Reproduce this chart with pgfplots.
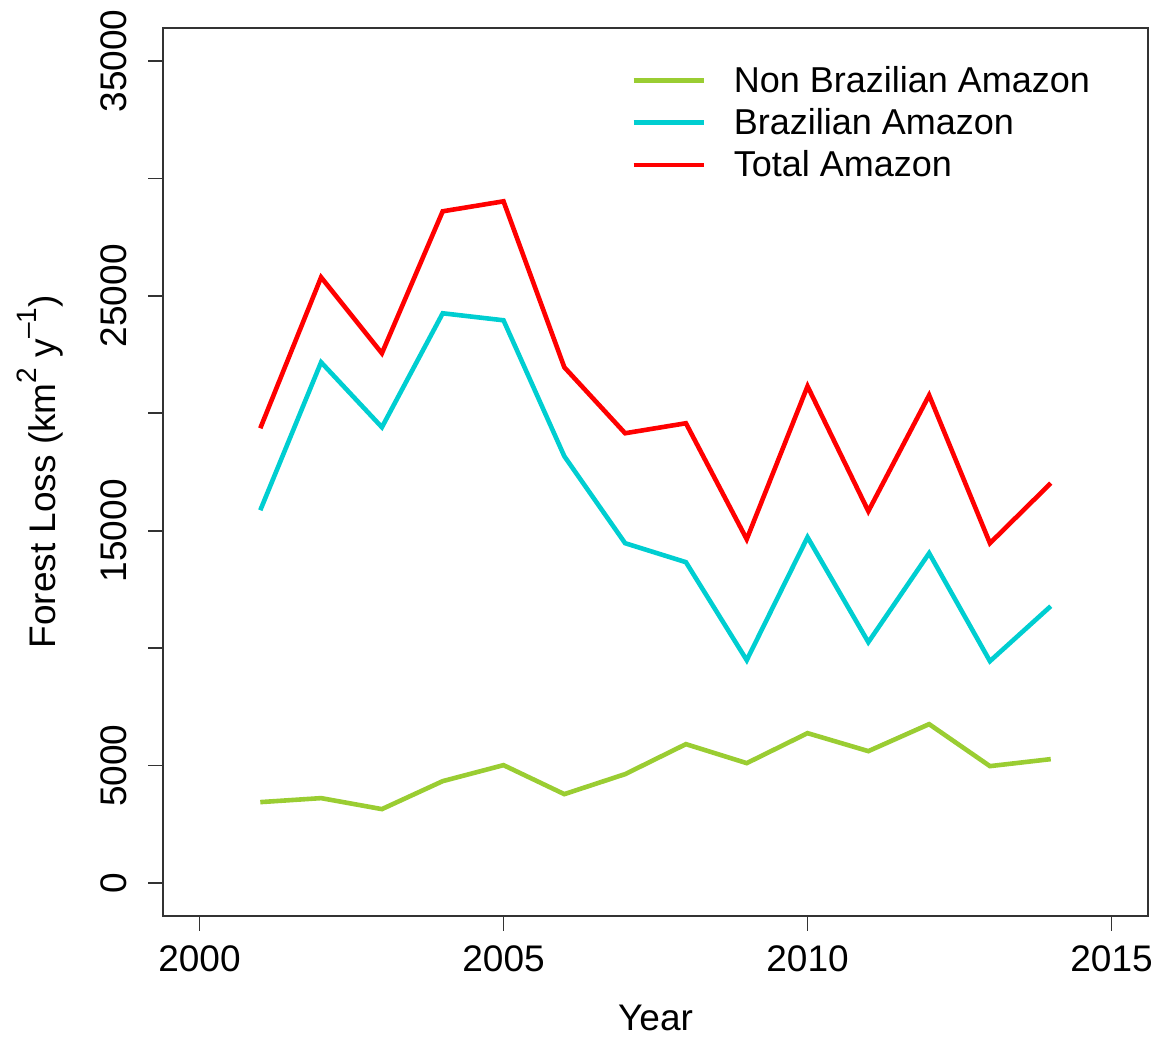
\documentclass[border=0pt]{standalone}
\usepackage{fontspec}
\setmainfont{Liberation Sans}
\usepackage{pgfplots}
\pgfplotsset{compat=1.18}
\definecolor{ygreen}{RGB}{154,205,50}
\definecolor{dturq}{RGB}{0,206,209}
\newcommand{\sups}[1]{\raisebox{0.5em}{\fontsize{14}{14}\selectfont #1}}
\pgfplotstableread{
year nonbr br total
2001 3447 15872 19362
2002 3617 22170 25787
2003 3149 19404 22553
2004 4340 24255 28596
2005 5021 23957 29021
2006 3787 18170 21957
2007 4638 14468 19149
2008 5915 13660 19574
2009 5106 9489 14638
2010 6383 14723 21149
2011 5617 10255 15830
2012 6766 14043 20766
2013 4979 9447 14468
2014 5277 11787 17021
}\datatable
\begin{document}
\begin{tikzpicture}
\begin{axis}[
  scale only axis, width=492.5pt, height=444pt,
  xmin=1999.4, xmax=2015.6, ymin=-1400, ymax=36400,
  xtick={2000,2005,2010,2015},
  ytick={0,5000,...,35000},
  yticklabels={0,5000,,15000,,25000,,35000},
  xticklabels={2000,2005,2010,2015},
  scaled ticks=false,
  tick align=outside, xtick pos=left, ytick pos=left,
  major tick length=7.5pt,
  tick style={line width=0.8pt, color=black!80},
  axis line style={line width=0.9pt, color=black!80},
  ticklabel style={font=\fontsize{18.5}{21}\selectfont},
  yticklabel style={rotate=90, anchor=south},
  xticklabel shift=4pt,
  yticklabel shift=7pt,
  label style={font=\fontsize{18.5}{22}\selectfont},
  xlabel={Year},
  ylabel={Forest Loss (km\sups{2} y\sups{\textendash1})},
  xlabel style={at={(rel axis cs:0.5,-0.115)}, anchor=center},
  ylabel style={at={(rel axis cs:-0.125,0.5)}, anchor=center},
  legend style={draw=none, fill=none, at={(rel axis cs:0.475,0.962)}, anchor=north west,
    font=\fontsize{18}{21}\selectfont, row sep=2.5pt, column sep=12pt, inner sep=0pt},
  legend cell align=left,
  legend image code/.code={\draw[#1] (0pt,0pt) -- (35pt,0pt);},
  clip=false,
]
\addplot[ygreen, line width=2.3pt] table[x=year, y=nonbr] {\datatable};
\addlegendentry{Non Brazilian Amazon}
\addplot[dturq, line width=2.3pt] table[x=year, y=br] {\datatable};
\addlegendentry{Brazilian Amazon}
\addplot[red, line width=2.3pt] table[x=year, y=total] {\datatable};
\addlegendentry{Total Amazon}
\coordinate (bl) at (rel axis cs:-0.1655,-0.1396);
\coordinate (tr) at (rel axis cs:1.0213,1.0315);
\end{axis}
\pgfresetboundingbox
\path (bl) rectangle (tr);
\end{tikzpicture}
\end{document}
